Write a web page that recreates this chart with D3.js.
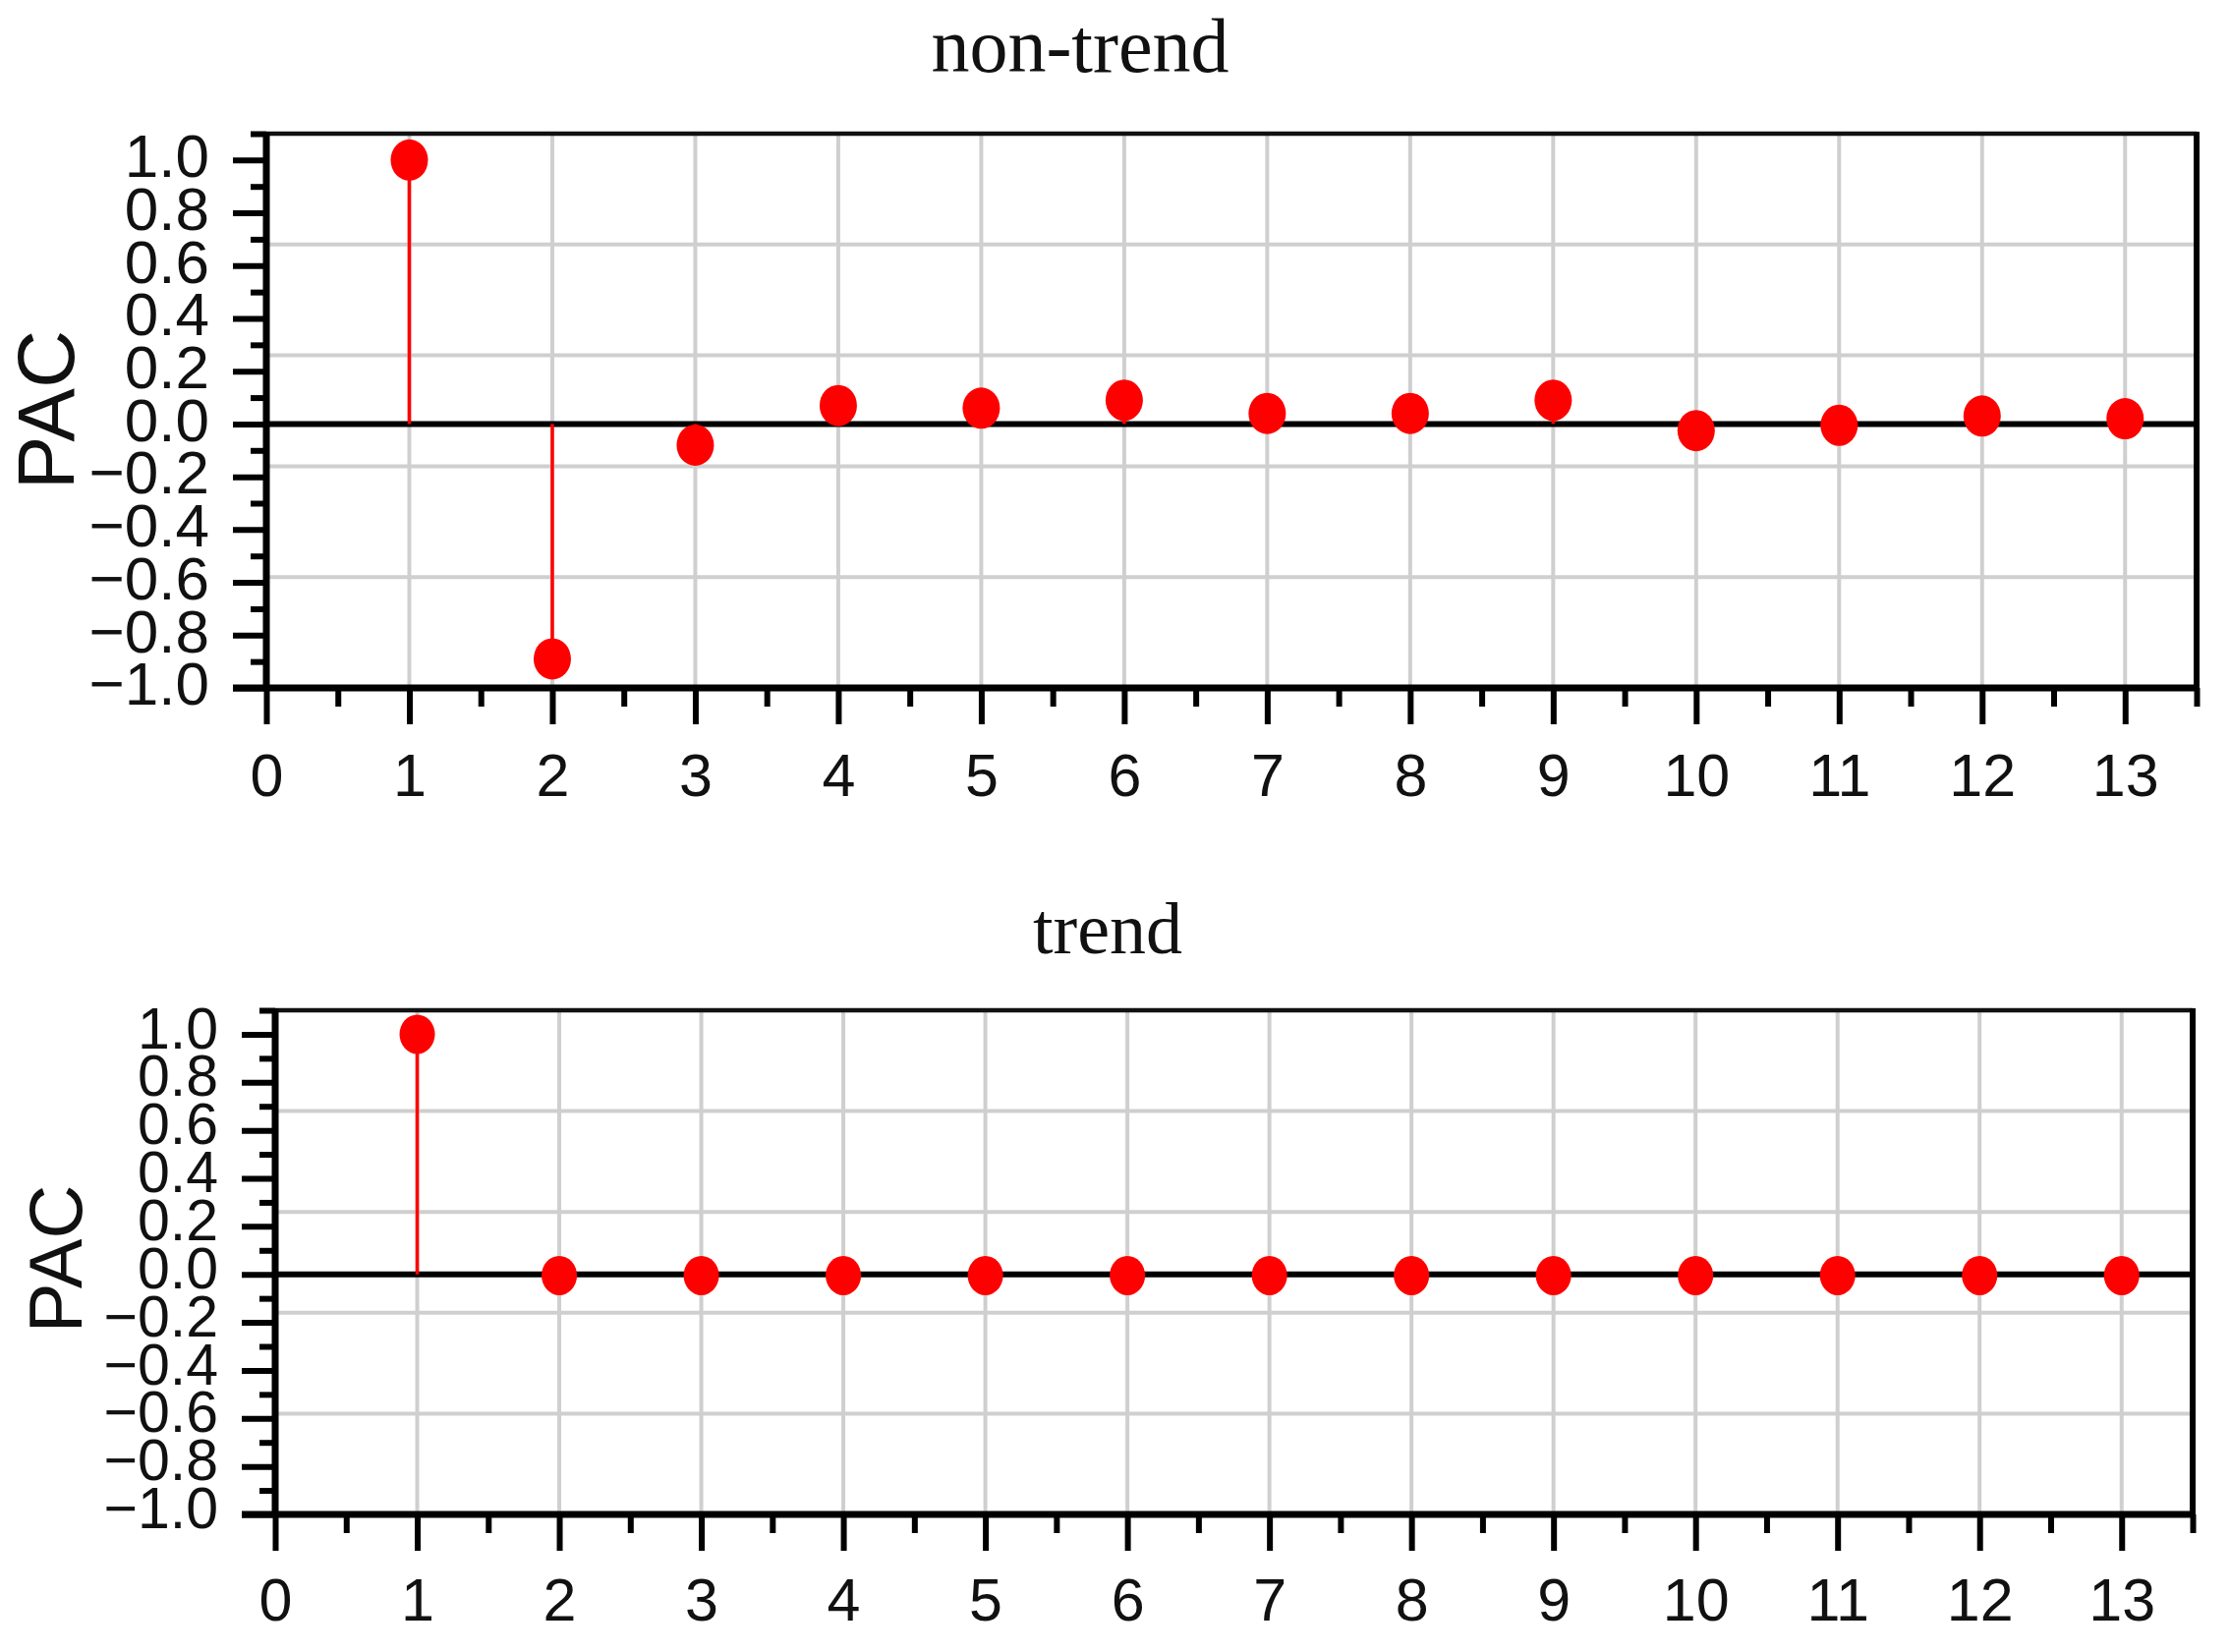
<!DOCTYPE html>
<html>
<head>
<meta charset="utf-8">
<script src="https://cdn.jsdelivr.net/npm/d3@7/dist/d3.min.js"></script>
<style>
  html, body { margin: 0; padding: 0; background: #fff; }
  svg { display: block; }
</style>
</head>
<body>
<svg id="chart" width="2269" height="1681"></svg>
<script>
// ---- data ----
const lags = [1, 2, 3, 4, 5, 6, 7, 8, 9, 10, 11, 12, 13];
const pacNonTrend = [1.0, -0.89, -0.08, 0.07, 0.06, 0.09, 0.04, 0.04, 0.09, -0.025, -0.005, 0.03, 0.02];
const pacTrend = [1.0, -0.005, -0.005, -0.005, -0.005, -0.005, -0.005, -0.005, -0.005, -0.005, -0.005, -0.005, -0.005];
const xTickValues = [0, 1, 2, 3, 4, 5, 6, 7, 8, 9, 10, 11, 12, 13];
const xMinorValues = [0.5, 1.5, 2.5, 3.5, 4.5, 5.5, 6.5, 7.5, 8.5, 9.5, 10.5, 11.5, 12.5, 13.5];
const yTickValues = [-1.0, -0.8, -0.6, -0.4, -0.2, 0.0, 0.2, 0.4, 0.6, 0.8, 1.0];
const yMinorValues = [-0.9, -0.7, -0.5, -0.3, -0.1, 0.1, 0.3, 0.5, 0.7, 0.9, 1.1];
const yGridValues = [-0.58, -0.16, 0.26, 0.68];
const xDomain = [0, 13.5];
const yDomain = [-1.0, 1.1];
const titles = ["non-trend", "trend"];
const yTitle = "PAC";

const svg = d3.select("#chart");
const fmt = v => (v < 0 ? "\u2212" : "") + Math.abs(v).toFixed(1);

function panel(cfg) {
  const x = d3.scaleLinear().domain(xDomain).range([cfg.left, cfg.right]);
  const y = d3.scaleLinear().domain(yDomain).range([cfg.bottom, cfg.top]);
  const g = svg.append("g");

  // grid
  g.append("g").selectAll("line.vg").data(lags).join("line")
    .attr("x1", d => x(d)).attr("x2", d => x(d))
    .attr("y1", y(yDomain[1])).attr("y2", y(yDomain[0]))
    .attr("stroke", "#cfcfcf").attr("stroke-width", 4);
  g.append("g").selectAll("line.hg").data(yGridValues).join("line")
    .attr("x1", x(xDomain[0])).attr("x2", x(xDomain[1]))
    .attr("y1", d => y(d)).attr("y2", d => y(d))
    .attr("stroke", "#cfcfcf").attr("stroke-width", 4);

  // zero line
  g.append("line")
    .attr("x1", x(xDomain[0])).attr("x2", x(xDomain[1]))
    .attr("y1", y(0)).attr("y2", y(0))
    .attr("stroke", "#000").attr("stroke-width", 6);

  // stems
  g.append("g").selectAll("line").data(cfg.values).join("line")
    .attr("x1", (d, i) => x(lags[i])).attr("x2", (d, i) => x(lags[i]))
    .attr("y1", y(0)).attr("y2", d => y(d))
    .attr("stroke", "#ff0000").attr("stroke-width", 3.5);

  // markers
  g.append("g").selectAll("ellipse").data(cfg.values).join("ellipse")
    .attr("cx", (d, i) => x(lags[i])).attr("cy", d => y(d))
    .attr("rx", cfg.r - 1).attr("ry", cfg.r + 1).attr("fill", "#ff0000");

  // axes
  const yAxis = g.append("g").attr("transform", `translate(${cfg.left},0)`)
    .call(d3.axisLeft(y).tickValues(yTickValues).tickSize(34).tickSizeOuter(0)
      .tickPadding(24).tickFormat(fmt));
  yAxis.select(".domain").remove();
  yAxis.selectAll(".tick line").attr("stroke", "#000").attr("stroke-width", 6);
  yAxis.selectAll(".tick text").attr("font-family", "'Liberation Sans', Arial, sans-serif")
    .attr("font-size", cfg.yFont).attr("fill", "#111").attr("dy", cfg.yDy);

  const yMinor = g.append("g").attr("transform", `translate(${cfg.left},0)`)
    .call(d3.axisLeft(y).tickValues(yMinorValues).tickSize(16).tickSizeOuter(0).tickFormat(""));
  yMinor.select(".domain").remove();
  yMinor.selectAll(".tick line").attr("stroke", "#000").attr("stroke-width", 6);

  const xAxis = g.append("g").attr("transform", `translate(0,${cfg.bottom})`)
    .call(d3.axisBottom(x).tickValues(xTickValues).tickSize(37).tickSizeOuter(0)
      .tickPadding(cfg.xPad).tickFormat(d3.format("d")));
  xAxis.select(".domain").remove();
  xAxis.selectAll(".tick line").attr("stroke", "#000").attr("stroke-width", 6);
  xAxis.selectAll(".tick text").attr("font-family", "'Liberation Sans', Arial, sans-serif")
    .attr("font-size", cfg.xFont).attr("fill", "#111");

  const xMinor = g.append("g").attr("transform", `translate(0,${cfg.bottom})`)
    .call(d3.axisBottom(x).tickValues(xMinorValues).tickSize(19).tickSizeOuter(0).tickFormat(""));
  xMinor.select(".domain").remove();
  xMinor.selectAll(".tick line").attr("stroke", "#000").attr("stroke-width", 6);

  // frame
  g.append("line").attr("x1", cfg.left).attr("x2", cfg.right)
    .attr("y1", cfg.top).attr("y2", cfg.top).attr("stroke", "#111").attr("stroke-width", 4.5);
  g.append("line").attr("x1", cfg.right).attr("x2", cfg.right)
    .attr("y1", cfg.top - 2).attr("y2", cfg.bottom).attr("stroke", "#000").attr("stroke-width", 6);
  g.append("line").attr("x1", cfg.left).attr("x2", cfg.left)
    .attr("y1", cfg.top - 2).attr("y2", cfg.bottom + 3).attr("stroke", "#000").attr("stroke-width", 7);
  g.append("line").attr("x1", cfg.left - 34).attr("x2", cfg.right + 3)
    .attr("y1", cfg.bottom).attr("y2", cfg.bottom).attr("stroke", "#000").attr("stroke-width", 7);

  // title
  svg.append("text").attr("x", cfg.titleX).attr("y", cfg.titleY)
    .attr("text-anchor", "middle")
    .attr("font-family", "'Liberation Serif', 'Times New Roman', serif")
    .attr("font-size", cfg.titleFont).attr("fill", "#111").text(cfg.title);

  // y title
  svg.append("text")
    .attr("transform", `translate(${cfg.yTitleX},${cfg.yTitleY}) rotate(-90)`)
    .attr("text-anchor", "middle")
    .attr("font-family", "'Liberation Sans', Arial, sans-serif")
    .attr("font-size", cfg.yTitleFont).attr("fill", "#111").text(yTitle);
}

panel({
  values: pacNonTrend, title: titles[0],
  left: 271, right: 2235, top: 136, bottom: 700,
  r: 20, yFont: 62, yDy: "0.27em", xFont: 61, xPad: 30,
  titleX: 1099, titleY: 73, titleFont: 78,
  yTitleX: 75, yTitleY: 417, yTitleFont: 82
});

panel({
  values: pacTrend, title: titles[1],
  left: 280, right: 2231, top: 1028, bottom: 1541,
  r: 19, yFont: 59, yDy: "0.23em", xFont: 61, xPad: 28,
  titleX: 1127, titleY: 970, titleFont: 74,
  yTitleX: 83, yTitleY: 1281, yTitleFont: 76
});
</script>
</body>
</html>
